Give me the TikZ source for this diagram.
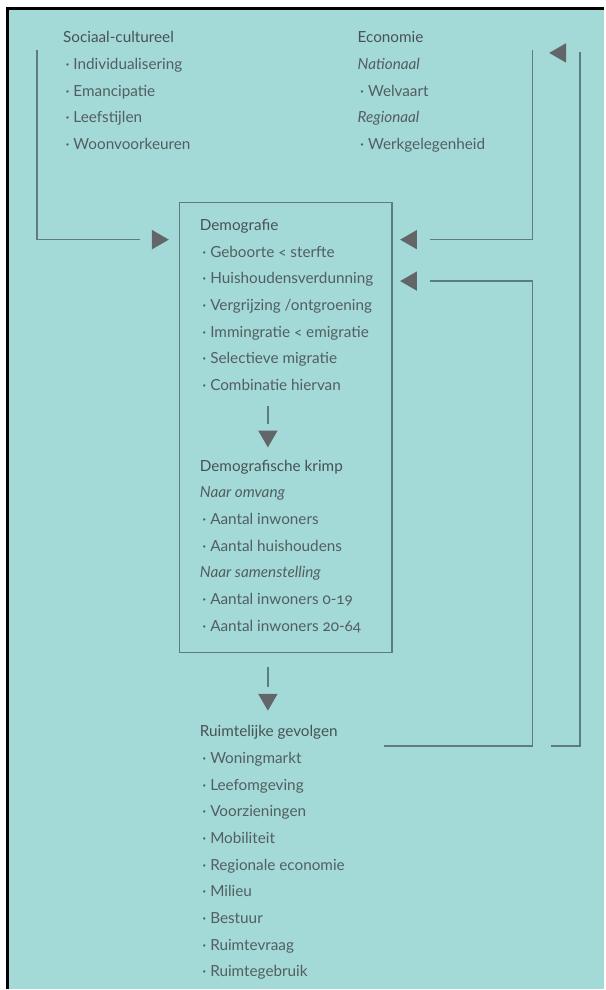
\documentclass[tikz,border=0pt]{standalone}
\usepackage{fontspec}
\setmainfont{Lato}[Numbers=OldStyle]
\usetikzlibrary{shapes.geometric,positioning,calc}
\definecolor{bgteal}{HTML}{A3D9D7}
\definecolor{linegray}{HTML}{5E7B7E}
\definecolor{tipgray}{HTML}{626669}
\definecolor{textgray}{HTML}{535E62}
\definecolor{headgray}{HTML}{485256}
\newcommand{\bul}{\hspace*{2.5pt}\textperiodcentered\ }
\newcommand{\hd}[1]{{\color{headgray}#1}}

\begin{document}
\begin{tikzpicture}[x=1pt, y=-1pt,
  every node/.style={font=\fontsize{15.3}{26.7}\selectfont, text=textgray},
  txt/.style={align=left, anchor=north west, inner sep=0pt},
  conn/.style={draw=linegray, line width=1.3pt},
  arrowtri/.style={regular polygon, regular polygon sides=3, fill=tipgray, draw=none, inner sep=0pt, minimum size=22.5pt},
  demobox/.style={draw=linegray, line width=1.3pt, anchor=north west, inner sep=0pt, minimum width=213pt, minimum height=451pt}
]

% frame
\fill[white] (0,0) rectangle (605,990);
\fill[bgteal] (7,9) rectangle (605,990);
\draw[black, line width=3pt] (7.5,990) -- (7.5,8.7) -- (605,8.7);

% causes
\node[txt] (soc) at (63,31.5) {\hd{Sociaal-cultureel}\\ \bul Individualisering\\ \bul Emancipatie\\ \bul Leefstijlen\\ \bul Woonvoorkeuren};
\node[txt] (eco) at (358,31.5) {\hd{Economie}\\ \textit{Nationaal}\\ \bul Welvaart\\ \textit{Regionaal}\\ \bul Werkgelegenheid};

% demography box
\node[demobox] (demo) at (179,202) {};
\node[txt] (dem) at (200,219.5) {\hd{Demografie}\\ \bul Geboorte < sterfte\\ \bul Huishoudensverdunning\\ \bul Vergrijzing /ontgroening\\ \bul Immingratie < emigratie\\ \bul Selectieve migratie\\ \bul Combinatie hiervan};
\node[arrowtri, shape border rotate=180] (tDem) at (268.3,436.8) {};
\node[txt] (krimp) at (200,460.5) {\hd{Demografische krimp}\\ \textit{Naar omvang}\\ \bul Aantal inwoners\\ \bul Aantal huishoudens\\ \textit{Naar samenstelling}\\ \bul Aantal inwoners 0-19\\ \bul Aantal inwoners 20-64};

% consequences
\node[arrowtri, shape border rotate=180] (tRuim) at (268.3,700.5) {};
\node[txt] (ruimte) at (200,726.5) {\hd{Ruimtelijke gevolgen}\\ \bul Woningmarkt\\ \bul Leefomgeving\\ \bul Voorzieningen\\ \bul Mobiliteit\\ \bul Regionale economie\\ \bul Milieu\\ \bul Bestuur\\ \bul Ruimtevraag\\ \bul Ruimtegebruik};

% arrow heads at the box
\node[arrowtri, shape border rotate=-90] (tSoc) at (157.8,240) {};
\node[arrowtri, shape border rotate=90] (tEco) at (412,240) {};
\node[arrowtri, shape border rotate=90] (tHuis) at (412,281.5) {};
\node[arrowtri, shape border rotate=90] (tTop) at (561.3,53) {};

% free ends
\coordinate (socTop) at (37,50);
\coordinate (ecoTop) at (533,50);
\coordinate (demLine) at (268.3,407);
\coordinate (rgEnd) at (385,747);
\coordinate (rgCorner) at (533,747);
\coordinate (outStart) at (552,747);
\coordinate (outCorner) at (581,747);

% connectors
\draw[conn, shorten >=12pt] (socTop) |- (tSoc);
\draw[conn, shorten >=12.4pt] (ecoTop) |- (tEco);
\draw[conn, shorten >=6pt] (demLine) -- (tDem);
\draw[conn, shorten <=14pt, shorten >=7pt] (demo.south -| tRuim) -- (tRuim);
\draw[conn, shorten >=12.4pt] (rgEnd) -- (rgCorner) |- (tHuis);
\draw[conn, shorten >=14pt] (outStart) -- (outCorner) |- (tTop);

\end{tikzpicture}
\end{document}
